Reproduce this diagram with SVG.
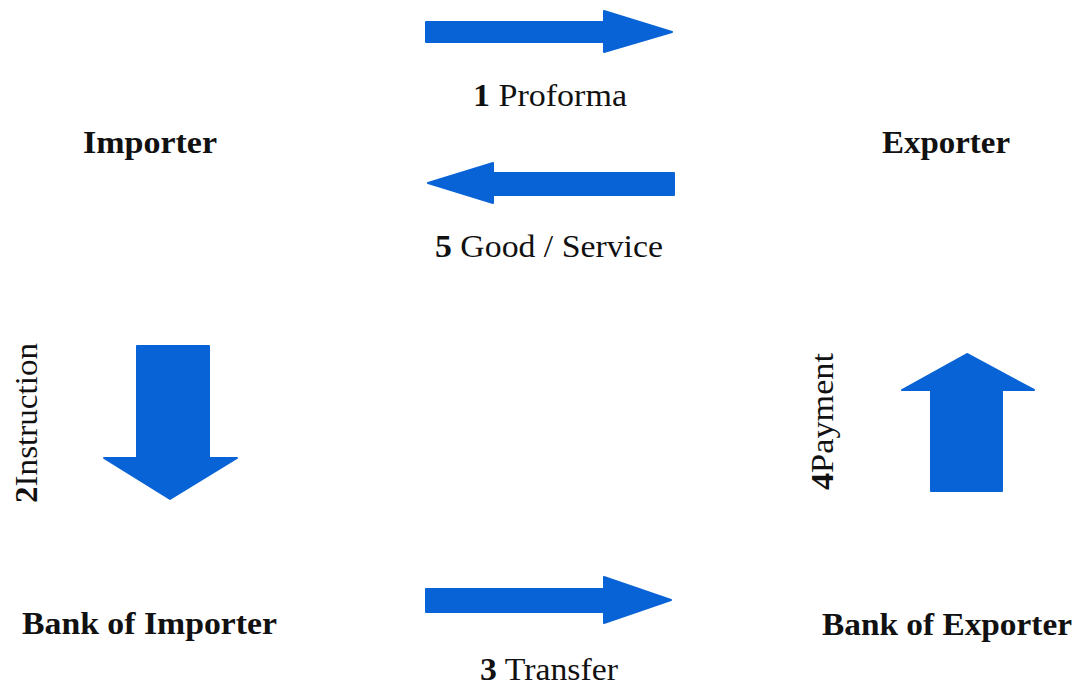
<svg xmlns="http://www.w3.org/2000/svg" width="1080" height="686" viewBox="0 0 1080 686">
<style>
.t{font-family:"Liberation Serif","Times New Roman",Times,serif;font-size:32px;fill:#111}
.b{font-weight:bold}
.arr{fill:#0863d6;stroke:#0863d6;stroke-width:2;stroke-linejoin:round}
</style>
<rect width="1080" height="686" fill="#fff"/>
<g id="importer"><text class="t b" x="83" y="153" textLength="134" lengthAdjust="spacingAndGlyphs">Importer</text></g>
<g id="exporter"><text class="t b" x="882" y="153" textLength="128" lengthAdjust="spacingAndGlyphs">Exporter</text></g>
<g id="bank-importer"><text class="t b" x="22" y="634" textLength="255" lengthAdjust="spacingAndGlyphs">Bank of Importer</text></g>
<g id="bank-exporter"><text class="t b" x="822" y="635" textLength="250" lengthAdjust="spacingAndGlyphs">Bank of Exporter</text></g>
<g id="connectors">
  <g id="c1">
    <path class="arr" d="M426,22 L604,22 L604,11 L672,32 L604,52 L604,42 L426,42 Z"/>
    <text class="t" x="473" y="106" textLength="154" lengthAdjust="spacingAndGlyphs"><tspan class="b">1</tspan> Proforma</text>
  </g>
  <g id="c5">
    <path class="arr" d="M674,173 L493,173 L493,163 L428,183 L493,203 L493,195 L674,195 Z"/>
    <text class="t" x="435" y="257" textLength="228" lengthAdjust="spacingAndGlyphs"><tspan class="b">5</tspan> Good / Service</text>
  </g>
  <g id="c2">
    <path class="arr" d="M137,346 L209,346 L209,458 L237,458 L170,499 L104,458 L137,458 Z"/>
    <text class="t" transform="translate(37,503) rotate(-90)" textLength="160" lengthAdjust="spacingAndGlyphs"><tspan class="b">2</tspan>Instruction</text>
  </g>
  <g id="c4">
    <path class="arr" d="M931,491 L1002,491 L1002,390 L1034,390 L967,354 L902,390 L931,390 Z"/>
    <text class="t" transform="translate(833,490) rotate(-90)" textLength="137" lengthAdjust="spacingAndGlyphs"><tspan class="b">4</tspan>Payment</text>
  </g>
  <g id="c3">
    <path class="arr" d="M426,589 L604,589 L604,577 L671,600 L604,623 L604,612 L426,612 Z"/>
    <text class="t" x="480" y="680" textLength="138" lengthAdjust="spacingAndGlyphs"><tspan class="b">3</tspan> Transfer</text>
  </g>
</g>
</svg>
